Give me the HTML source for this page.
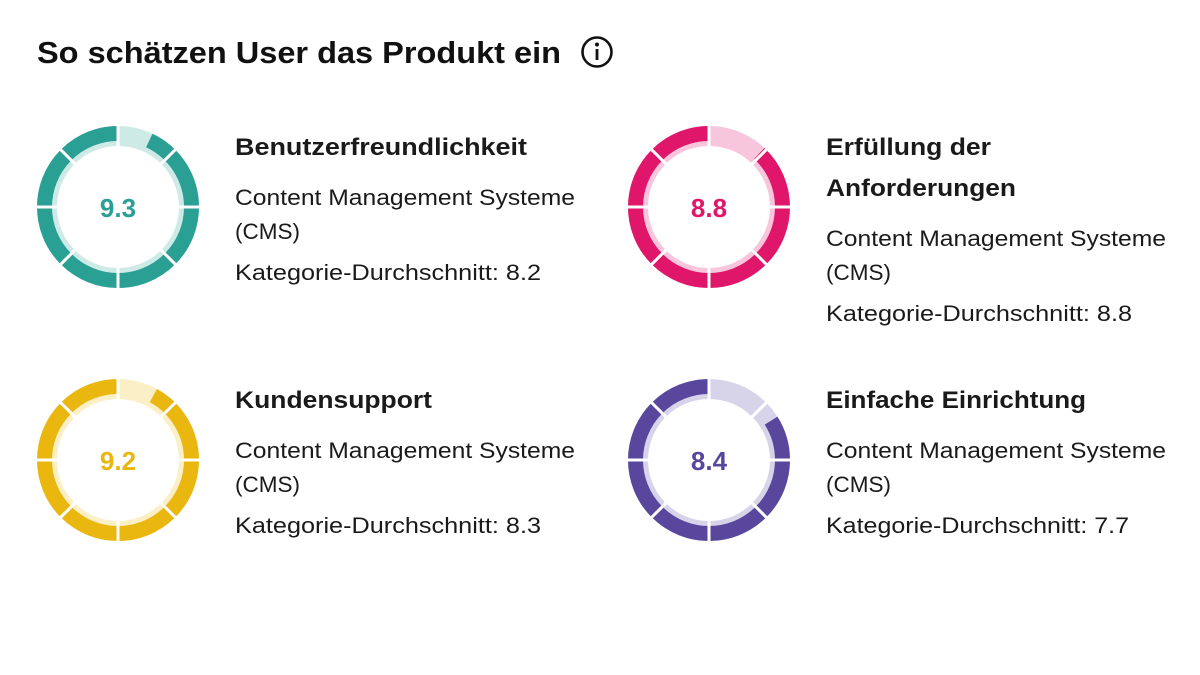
<!DOCTYPE html>
<html><head><meta charset="utf-8"><style>
html,body{margin:0;padding:0;background:#fff;}
svg{display:block;}
text{font-family:"Liberation Sans",sans-serif;}
</style></head><body>
<svg width="1200" height="675" viewBox="0 0 1200 675" xmlns="http://www.w3.org/2000/svg">
<defs>
<g id="gaps" stroke="#fff" stroke-width="3">
<line x1="0" y1="-58" x2="0" y2="-86" transform="rotate(0)"/>
<line x1="0" y1="-58" x2="0" y2="-86" transform="rotate(45)"/>
<line x1="0" y1="-58" x2="0" y2="-86" transform="rotate(90)"/>
<line x1="0" y1="-58" x2="0" y2="-86" transform="rotate(135)"/>
<line x1="0" y1="-58" x2="0" y2="-86" transform="rotate(180)"/>
<line x1="0" y1="-58" x2="0" y2="-86" transform="rotate(225)"/>
<line x1="0" y1="-58" x2="0" y2="-86" transform="rotate(270)"/>
<line x1="0" y1="-58" x2="0" y2="-86" transform="rotate(315)"/>
</g>
</defs>

<text x="37" y="63" font-size="31" font-weight="bold" fill="#111" textLength="524" lengthAdjust="spacingAndGlyphs">So schätzen User das Produkt ein</text>
<circle cx="597" cy="52" r="14.5" fill="none" stroke="#111" stroke-width="2.6"/>
<circle cx="597" cy="44.5" r="2" fill="#111"/>
<rect x="595.6" y="49" width="2.8" height="11" fill="#111"/>

<g transform="translate(118,207)">
<circle r="71" fill="none" stroke="#cdeae7" stroke-width="20"/>
<circle r="73.5" fill="none" stroke="#2a9f94" stroke-width="15" stroke-dasharray="0 32.3 429.5 1000" transform="rotate(-90)"/>
<use href="#gaps"/>
<text x="0" y="10" text-anchor="middle" font-size="26" font-weight="bold" fill="#2a9f94">9.3</text>
</g>
<g transform="translate(709,207)">
<circle r="71" fill="none" stroke="#f8c6dc" stroke-width="20"/>
<circle r="73.5" fill="none" stroke="#df1669" stroke-width="15" stroke-dasharray="0 55.4 406.4 1000" transform="rotate(-90)"/>
<use href="#gaps"/>
<text x="0" y="10" text-anchor="middle" font-size="26" font-weight="bold" fill="#df1669">8.8</text>
</g>
<g transform="translate(118,460)">
<circle r="71" fill="none" stroke="#fbefc6" stroke-width="20"/>
<circle r="73.5" fill="none" stroke="#e9b70f" stroke-width="15" stroke-dasharray="0 36.9 424.9 1000" transform="rotate(-90)"/>
<use href="#gaps"/>
<text x="0" y="10" text-anchor="middle" font-size="26" font-weight="bold" fill="#e9b70f">9.2</text>
</g>
<g transform="translate(709,460)">
<circle r="71" fill="none" stroke="#d7d4ea" stroke-width="20"/>
<circle r="73.5" fill="none" stroke="#58479c" stroke-width="15" stroke-dasharray="0 73.9 387.9 1000" transform="rotate(-90)"/>
<use href="#gaps"/>
<text x="0" y="10" text-anchor="middle" font-size="26" font-weight="bold" fill="#58479c">8.4</text>
</g>

<g fill="#1a1a1a">
<text x="235" y="155" font-size="24" font-weight="bold" textLength="292" lengthAdjust="spacingAndGlyphs">Benutzerfreundlichkeit</text>
<text x="235" y="205" font-size="22" textLength="340" lengthAdjust="spacingAndGlyphs">Content Management Systeme</text>
<text x="235" y="239" font-size="22" textLength="65" lengthAdjust="spacingAndGlyphs">(CMS)</text>
<text x="235" y="280" font-size="22" textLength="306" lengthAdjust="spacingAndGlyphs">Kategorie-Durchschnitt: 8.2</text>

<text x="826" y="155" font-size="24" font-weight="bold" textLength="165" lengthAdjust="spacingAndGlyphs">Erfüllung der</text>
<text x="826" y="196" font-size="24" font-weight="bold" textLength="190" lengthAdjust="spacingAndGlyphs">Anforderungen</text>
<text x="826" y="246" font-size="22" textLength="340" lengthAdjust="spacingAndGlyphs">Content Management Systeme</text>
<text x="826" y="280" font-size="22" textLength="65" lengthAdjust="spacingAndGlyphs">(CMS)</text>
<text x="826" y="321" font-size="22" textLength="306" lengthAdjust="spacingAndGlyphs">Kategorie-Durchschnitt: 8.8</text>

<text x="235" y="408" font-size="24" font-weight="bold" textLength="197" lengthAdjust="spacingAndGlyphs">Kundensupport</text>
<text x="235" y="458" font-size="22" textLength="340" lengthAdjust="spacingAndGlyphs">Content Management Systeme</text>
<text x="235" y="492" font-size="22" textLength="65" lengthAdjust="spacingAndGlyphs">(CMS)</text>
<text x="235" y="533" font-size="22" textLength="306" lengthAdjust="spacingAndGlyphs">Kategorie-Durchschnitt: 8.3</text>

<text x="826" y="408" font-size="24" font-weight="bold" textLength="260" lengthAdjust="spacingAndGlyphs">Einfache Einrichtung</text>
<text x="826" y="458" font-size="22" textLength="340" lengthAdjust="spacingAndGlyphs">Content Management Systeme</text>
<text x="826" y="492" font-size="22" textLength="65" lengthAdjust="spacingAndGlyphs">(CMS)</text>
<text x="826" y="533" font-size="22" textLength="303" lengthAdjust="spacingAndGlyphs">Kategorie-Durchschnitt: 7.7</text>
</g>
</svg>
</body></html>
